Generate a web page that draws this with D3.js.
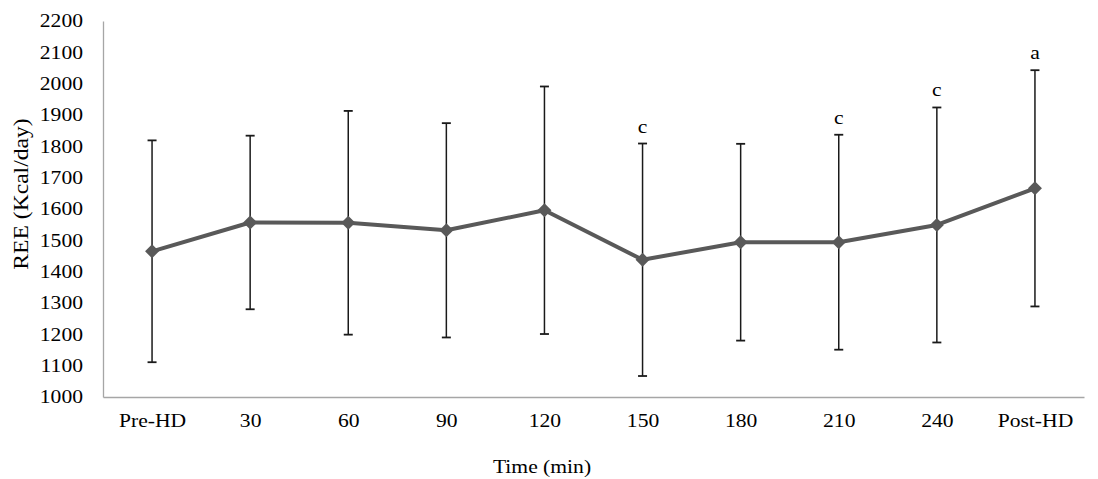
<!DOCTYPE html>
<html><head><meta charset="utf-8">
<script src="https://cdn.jsdelivr.net/npm/d3@7"></script>
<style>
body{margin:0;background:#fff;}
text{font-family:"Liberation Serif","Times New Roman",serif;fill:#000;}
</style></head>
<body><svg id="c" width="1098" height="479"></svg>
<script>
const categories = ["Pre-HD","30","60","90","120","150","180","210","240","Post-HD"];
const means = [1465,1557,1556,1532,1596,1438,1494,1494,1549,1666];
const sds = [354,277,357,342,395,371,314,343,375,377];
const sigLabels = ["","","","","","c","","c","c","a"];
const yTicks = [1000,1100,1200,1300,1400,1500,1600,1700,1800,1900,2000,2100,2200];

const svg = d3.select("#c");
const L=103,R=1084,T=21,B=397;
const SX=1.2;
const x = d3.scalePoint().domain(categories).range([L,R]).padding(0.5);
const y = d3.scaleLinear().domain([1000,2200]).range([B,T]);

// axes
const ya = svg.append("g").attr("transform",`translate(${L},0)`)
  .call(d3.axisLeft(y).tickValues(yTicks).tickFormat(d3.format("d")).tickSize(0).tickPadding(20));
ya.select(".domain").attr("stroke","#a6a6a6").attr("stroke-width",1.3);
ya.selectAll("text").style("font-size","18px").attr("font-family","Liberation Serif")
  .attr("x",-20/SX).attr("transform",`scale(${SX},1)`);

const xa = svg.append("g").attr("transform",`translate(0,${B})`)
  .call(d3.axisBottom(x).tickSize(0).tickPadding(17));
xa.select(".domain").attr("stroke","#a6a6a6").attr("stroke-width",1.3);
xa.selectAll("text").style("font-size","18px").attr("font-family","Liberation Serif")
  .attr("transform",`scale(${SX},1)`);

// error bars
const g = svg.append("g");
categories.forEach((c,i)=>{
  const cx=x(c), top=y(means[i]+sds[i]), bot=y(means[i]-sds[i]);
  g.append("line").attr("x1",cx).attr("x2",cx).attr("y1",top).attr("y2",bot)
    .attr("stroke","#1a1a1a").attr("stroke-width",1.5);
  [top,bot].forEach(yy=>g.append("line").attr("x1",cx-4.5).attr("x2",cx+4.5)
    .attr("y1",yy).attr("y2",yy).attr("stroke","#1a1a1a").attr("stroke-width",1.8));
  if(sigLabels[i]) svg.append("text")
    .attr("transform",`translate(${cx},${top-11}) scale(${SX},1)`)
    .attr("text-anchor","middle").style("font-size","18px").text(sigLabels[i]);
});

// line
const line = d3.line().x((d,i)=>x(categories[i])).y(d=>y(d));
svg.append("path").datum(means).attr("d",line).attr("fill","none")
  .attr("stroke","#595959").attr("stroke-width",4).attr("stroke-linejoin","round");

// markers
svg.selectAll(".m").data(means).enter().append("path")
  .attr("d",d3.symbol().type(d3.symbolDiamond2).size(125))
  .attr("transform",(d,i)=>`translate(${x(categories[i])},${y(d)})`)
  .attr("fill","#595959");

// titles
svg.append("text").attr("transform",`translate(542,473) scale(${SX},1)`).attr("text-anchor","middle")
  .style("font-size","18px").text("Time (min)");
svg.append("text").attr("transform","translate(28,194) rotate(-90) scale(1.18,1)").attr("text-anchor","middle")
  .style("font-size","20px").text("REE (Kcal/day)");
</script></body></html>
